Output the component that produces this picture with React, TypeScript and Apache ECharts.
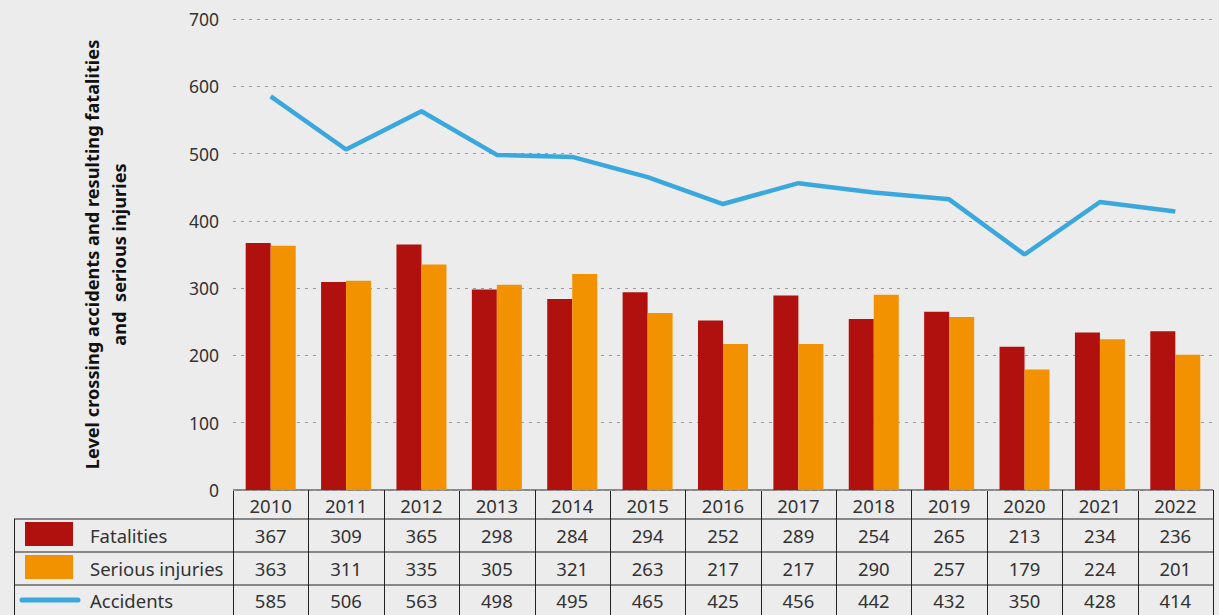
import React, { useEffect, useRef } from "react";
import * as echarts from "echarts";

const years = ["2010","2011","2012","2013","2014","2015","2016","2017","2018","2019","2020","2021","2022"];
const fatalities = [367,309,365,298,284,294,252,289,254,265,213,234,236];
const seriousInjuries = [363,311,335,305,321,263,217,217,290,257,179,224,201];
const accidents = [585,506,563,498,495,465,425,456,442,432,350,428,414];
const yTicks = [0,100,200,300,400,500,600,700];

const W = 1219, H = 615;
const GL = 233, GR = 1213, GT = 19, GB = 490;
const FONT = "'Noto Sans', 'Open Sans', sans-serif";
const RED = "#b0100e", ORANGE = "#f39200", BLUE = "#3aa8dd";

export default function App() {
  const ref = useRef<HTMLDivElement>(null);
  useEffect(() => {
    document.body.style.margin = "0";
    const chart = echarts.init(ref.current!, undefined, { renderer: "svg" });
    const n = years.length;
    const cw = (GR - GL) / n;
    const rows = [
      { name: "Fatalities", vals: fatalities, top: 519, bot: 552, kind: "rect", color: RED },
      { name: "Serious injuries", vals: seriousInjuries, top: 552, bot: 585, kind: "rect", color: ORANGE },
      { name: "Accidents", vals: accidents, top: 585, bot: 615, kind: "line", color: BLUE },
    ];
    const g: any[] = [];
    const lineStyle = { stroke: "#222", lineWidth: 1 };
    const tf = `18.5px ${FONT}`;
    g.push({ type: "line", shape: { x1: GL, y1: GB, x2: GR, y2: GB }, style: lineStyle });
    [519, 552, 585].forEach((y) => g.push({ type: "line", shape: { x1: 14, y1: y, x2: GR, y2: y }, style: lineStyle }));
    for (let i = 0; i <= n; i++) {
      const x = Math.round(GL + i * cw) + 0.5;
      g.push({ type: "line", shape: { x1: x, y1: GB, x2: x, y2: H }, style: lineStyle });
    }
    g.push({ type: "line", shape: { x1: 14.5, y1: 519, x2: 14.5, y2: H }, style: lineStyle });
    years.forEach((yr, i) => {
      g.push({ type: "text", x: GL + (i + 0.5) * cw, y: 505, style: { text: yr, fill: "#333", font: tf, align: "center", verticalAlign: "middle" } });
    });
    rows.forEach((r) => {
      const cy = (r.top + r.bot) / 2;
      if (r.kind === "rect") {
        g.push({ type: "rect", shape: { x: 25, y: r.top + 3, width: 48, height: 24 }, style: { fill: r.color } });
      } else {
        g.push({ type: "line", shape: { x1: 22, y1: cy, x2: 78, y2: cy }, style: { stroke: r.color, lineWidth: 5, lineCap: "round" } });
      }
      g.push({ type: "text", x: 90, y: cy, style: { text: r.name, fill: "#333", font: tf, align: "left", verticalAlign: "middle" } });
      r.vals.forEach((v, i) => {
        g.push({ type: "text", x: GL + (i + 0.5) * cw, y: cy, style: { text: String(v), fill: "#333", font: tf, align: "center", verticalAlign: "middle" } });
      });
    });

    chart.setOption({
      animation: false,
      backgroundColor: "#ececec",
      textStyle: { fontFamily: FONT },
      grid: { left: GL, right: W - GR, top: GT, bottom: H - GB, containLabel: false },
      xAxis: {
        type: "category",
        data: years,
        axisLine: { show: false },
        axisTick: { show: false },
        axisLabel: { show: false },
      },
      yAxis: {
        type: "value",
        min: yTicks[0],
        max: yTicks[yTicks.length - 1],
        interval: 100,
        axisLine: { show: false },
        axisTick: { show: false },
        axisLabel: { color: "#333", fontSize: 17.5, margin: 14, fontFamily: FONT },
        splitLine: { lineStyle: { color: "#999", type: [3, 5], width: 1 } },
        name: "Level crossing accidents and resulting fatalities\nand  serious injuries",
        nameLocation: "middle",
        nameGap: 101,
        nameTextStyle: { color: "#111", fontSize: 18.2, fontWeight: "bold", lineHeight: 27, fontFamily: FONT },
      },
      series: [
        { name: "Fatalities", type: "bar", data: fatalities, barWidth: 25, barGap: "0%", itemStyle: { color: RED } },
        { name: "Serious injuries", type: "bar", data: seriousInjuries, barWidth: 25, itemStyle: { color: ORANGE } },
        { name: "Accidents", type: "line", data: accidents, symbol: "none", lineStyle: { color: BLUE, width: 4.5 }, itemStyle: { color: BLUE } },
      ],
      graphic: g,
    });
    return () => chart.dispose();
  }, []);
  return <div ref={ref} style={{ position: "fixed", left: 0, top: 0, width: W, height: H }} />;
}
